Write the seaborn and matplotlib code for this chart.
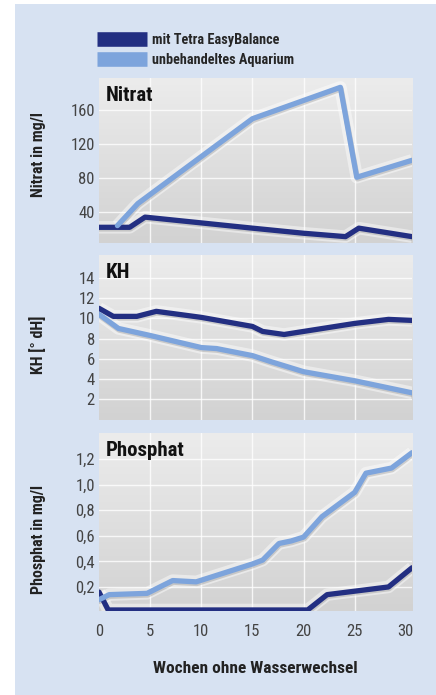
import numpy as np
import pandas as pd
import seaborn as sns
import matplotlib
matplotlib.use("Agg")
import matplotlib.pyplot as plt
from matplotlib.lines import Line2D
from matplotlib.patches import Rectangle
from matplotlib import font_manager

# ---------------- data ----------------
series_names = ["mit Tetra EasyBalance", "unbehandeltes Aquarium"]
colors = ["#232f82", "#7da4dc"]

nitrat_dark_x = [0, 3, 4.5, 15, 20, 24.1, 25.4, 30.6]
nitrat_dark_y = [22, 22, 34, 21, 15, 11, 21, 11]
nitrat_light_x = [1.8, 3.8, 15, 23.6, 25.2, 30.6]
nitrat_light_y = [24, 50, 150, 187, 81, 101]

kh_dark_x = [0, 1.4, 3.7, 5.6, 10, 15, 16, 18.1, 25, 28.3, 30.6]
kh_dark_y = [11.0, 10.2, 10.2, 10.7, 10.1, 9.2, 8.7, 8.4, 9.5, 9.9, 9.8]
kh_light_x = [0, 1.9, 5, 10, 11.5, 15, 16.8, 20, 25, 30.6]
kh_light_y = [10.4, 9.0, 8.3, 7.1, 7.0, 6.3, 5.7, 4.7, 3.8, 2.6]

phos_dark_x = [0, 0.9, 20.4, 22.3, 28.3, 30.6]
phos_dark_y = [0.16, 0.02, 0.02, 0.14, 0.20, 0.35]
phos_light_x = [0, 1, 4.7, 7.2, 9.5, 15, 16, 17.6, 18.8, 20, 21.8, 25, 26.1, 28.6, 30.6]
phos_light_y = [0.10, 0.14, 0.15, 0.25, 0.24, 0.38, 0.41, 0.54, 0.56, 0.59, 0.75, 0.94, 1.09, 1.13, 1.25]

x_ticks = [0, 5, 10, 15, 20, 25, 30]
nitrat_ticks = [40, 80, 120, 160]
kh_ticks = [2, 4, 6, 8, 10, 12, 14]
phos_ticks = [0.2, 0.4, 0.6, 0.8, 1.0, 1.2]
phos_tick_labels = ["0,2", "0,4", "0,6", "0,8", "1,0", "1,2"]

panel_titles = ["Nitrat", "KH", "Phosphat"]
y_labels = ["Nitrat in mg/l", "KH [° dH]", "Phosphat in mg/l"]
x_label = "Wochen ohne Wasserwechsel"


def frame(dx, dy, lx, ly):
    return pd.DataFrame({
        "x": list(dx) + list(lx),
        "y": list(dy) + list(ly),
        "s": [series_names[0]] * len(dx) + [series_names[1]] * len(lx),
    })


panels = [
    (frame(nitrat_dark_x, nitrat_dark_y, nitrat_light_x, nitrat_light_y), (3.5, 198), nitrat_ticks, [str(t) for t in nitrat_ticks]),
    (frame(kh_dark_x, kh_dark_y, kh_light_x, kh_light_y), (-0.1, 16.3), kh_ticks, [str(t) for t in kh_ticks]),
    (frame(phos_dark_x, phos_dark_y, phos_light_x, phos_light_y), (0.012, 1.404), phos_ticks, phos_tick_labels),
]

# ---------------- style ----------------
sns.set_theme(style="white")
available = {f.name for f in font_manager.fontManager.ttflist}
fam = "DejaVu Sans"
for cand in ["Liberation Sans Narrow", "Roboto Condensed", "Open Sans Condensed", "Roboto", "Liberation Sans"]:
    if cand in available:
        fam = cand
        break
COND = [fam, "DejaVu Sans"]
plt.rcParams["font.family"] = COND

W, H = 436, 695
fig = plt.figure(figsize=(W / 100, H / 100), dpi=100)
fig.patch.set_facecolor("white")
bg = Rectangle((15 / W, 0), 1, (H - 4) / H, transform=fig.transFigure,
               facecolor="#d7e2f2", edgecolor="none", zorder=-10)
fig.patches.append(bg)

# panel geometry in pixels (top, bottom)
left_px, right_px = 99, 412
rows = [(78, 243), (255, 420), (433, 611)]
label_y = [0.539, 0.455, 0.40]

grad = np.linspace(0, 1, 256).reshape(-1, 1)
cmap = matplotlib.colors.LinearSegmentedColormap.from_list("g", ["#ececec", "#d2d2d2"])

for i, ((df, ylim, yt, ytl), (top, bot)) in enumerate(zip(panels, rows)):
    ax = fig.add_axes([left_px / W, 1 - bot / H, (right_px - left_px) / W, (bot - top) / H])
    ax.set_zorder(1)
    ax.patch.set_alpha(0)
    ax.imshow(grad, aspect="auto", cmap=cmap, extent=[0, 1, 0, 1], transform=ax.transAxes, zorder=0)
    ax.set_xlim(0, 30.6)
    ax.set_ylim(*ylim)
    for xv in x_ticks[1:-1]:
        ax.axvline(xv, color="white", lw=1.0, alpha=0.8, zorder=1)
    for yv in yt:
        ax.axhline(yv, color="white", lw=1.0, alpha=0.8, zorder=1)
    # soft glow and shadow under lines
    for s, c in zip(series_names, colors):
        d = df[df.s == s]
        ax.plot(d.x, d.y, color="white", lw=9, alpha=0.45, zorder=2, solid_capstyle="butt")
        ax.plot(d.x, d.y, color="#8a8a8a", lw=3.8, alpha=0.35, zorder=2,
                transform=ax.transData + matplotlib.transforms.ScaledTranslation(0.5 / 72, -1.2 / 72, fig.dpi_scale_trans))
    sns.lineplot(data=df, x="x", y="y", hue="s", palette=colors, hue_order=series_names,
                 estimator=None, sort=False, lw=3.8, ax=ax, legend=False, zorder=3)
    ax.set_yticks(yt)
    ax.set_yticklabels(ytl)
    ax.set_xlabel("")
    ax.set_ylabel(y_labels[i], fontsize=11.5, fontweight="bold", color="#222222")
    ax.yaxis.set_label_coords(-(99 - 46) / (right_px - left_px), label_y[i])
    ax.tick_params(axis="y", length=0, pad=3, labelsize=12, labelcolor="#444444")
    for sp in ax.spines.values():
        sp.set_visible(False)
    ax.text(7 / (right_px - left_px), 1 - 8 / (bot - top), panel_titles[i], transform=ax.transAxes,
            ha="left", va="top", fontsize=15, fontweight="bold", color="#111111", zorder=5)
    if i < 2:
        ax.set_xticks([])
    else:
        ax.set_xticks(x_ticks)
        ax.set_xticklabels([str(t) for t in x_ticks])
        ax.tick_params(axis="x", length=0, pad=9, labelsize=12, labelcolor="#444444")
        ax.set_xlabel(x_label, fontsize=12.5, fontweight="bold", color="#222222", labelpad=16)
    ax.grid(False)

# legend
handles = [Line2D([0], [0], color=c, lw=10.5, solid_capstyle="butt") for c in colors]
fig.legend(handles, series_names, loc="upper left", bbox_to_anchor=(97 / W, 1 - 33 / H),
           frameon=False, handlelength=3.5, handletextpad=0.35, labelspacing=0.42, borderpad=0,
           borderaxespad=0, prop={"weight": "bold", "size": 10.3, "family": COND})

fig.savefig("out.png", dpi=100, facecolor="white")
